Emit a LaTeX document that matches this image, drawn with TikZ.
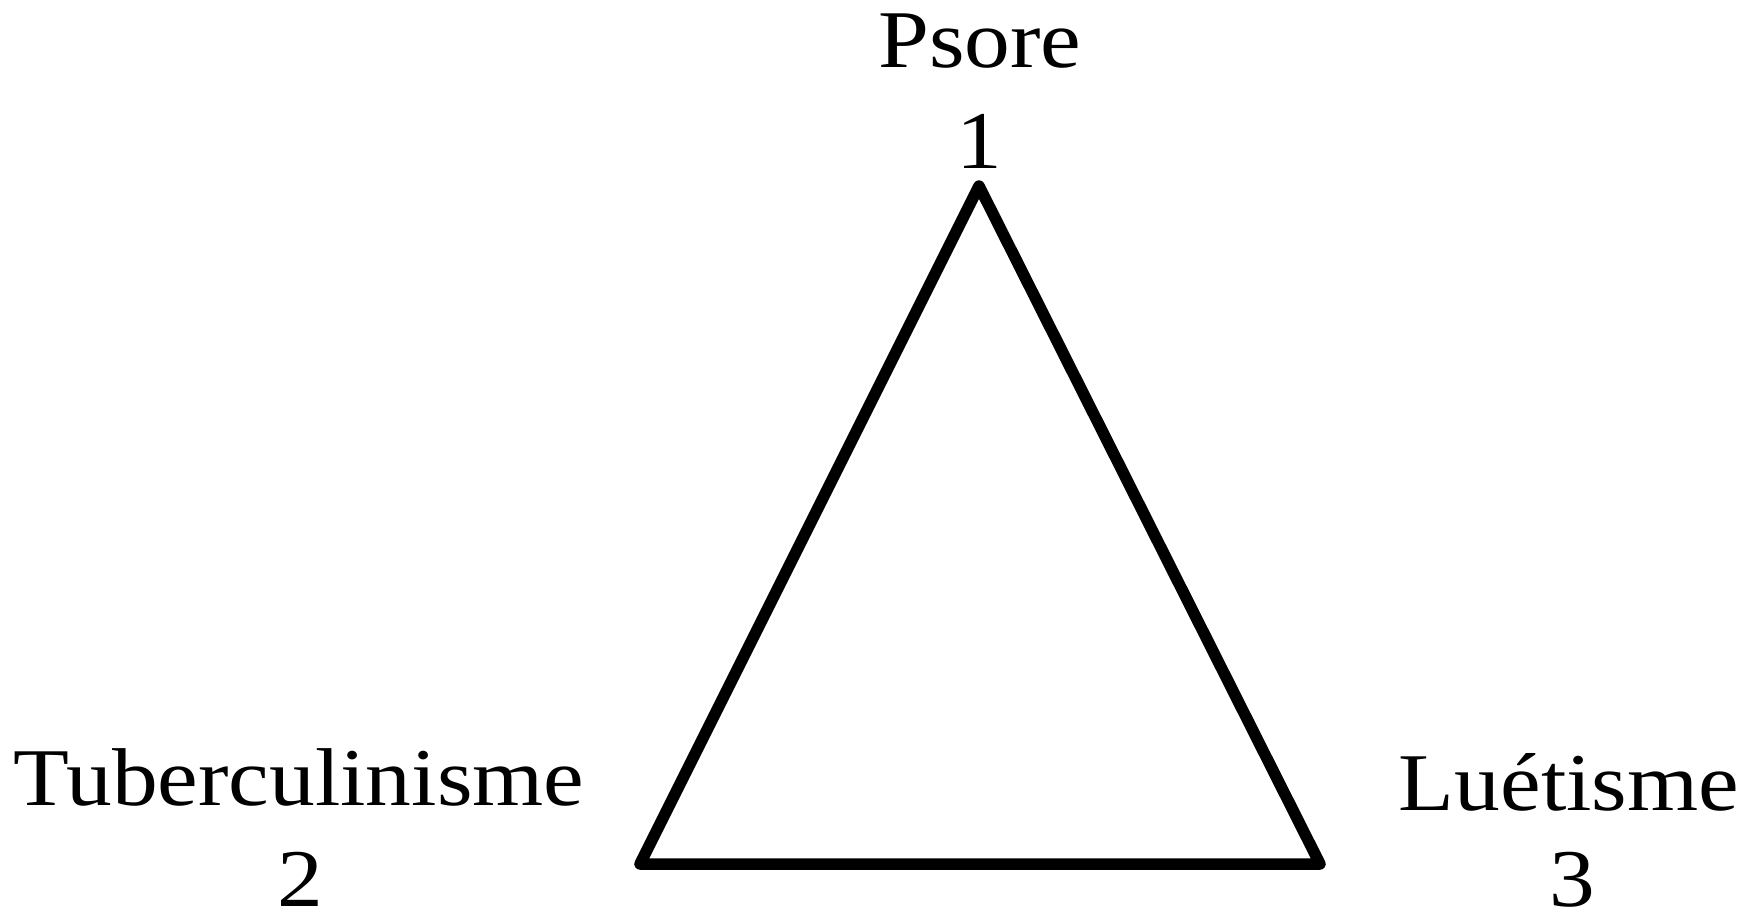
\documentclass[tikz,border=0pt]{standalone}
\usepackage{graphicx}
\usepackage{fontspec}
\setmainfont{Liberation Serif}
\newcommand{\stretchtxt}[1]{\scalebox{1.115}[1]{#1}}
\begin{document}
\begin{tikzpicture}[x=1pt,y=-1pt,
  lbl/.style={anchor=base,inner sep=0pt,font=\fontsize{82}{90}\selectfont},
  tri/.style={line width=11.5pt,line join=round,line cap=round}]
\useasboundingbox (0,0) rectangle (1754,916);
\coordinate (t1) at (979,186);
\coordinate (t2) at (640,864);
\coordinate (t3) at (1320,864);
\draw[tri] (t1) -- (t2) -- (t3) -- cycle;
\node[lbl] (psore) at (980,67) {\stretchtxt{Psore}};
\node[lbl] (n1) at (979,168) {\stretchtxt{1}};
\node[lbl] (tub) at (299,805) {\stretchtxt{Tuberculinisme}};
\node[lbl] (n2) at (300,906) {\stretchtxt{2}};
\node[lbl] (lue) at (1569,810) {\stretchtxt{Luétisme}};
\node[lbl] (n3) at (1572,906) {\stretchtxt{3}};
\end{tikzpicture}
\end{document}
